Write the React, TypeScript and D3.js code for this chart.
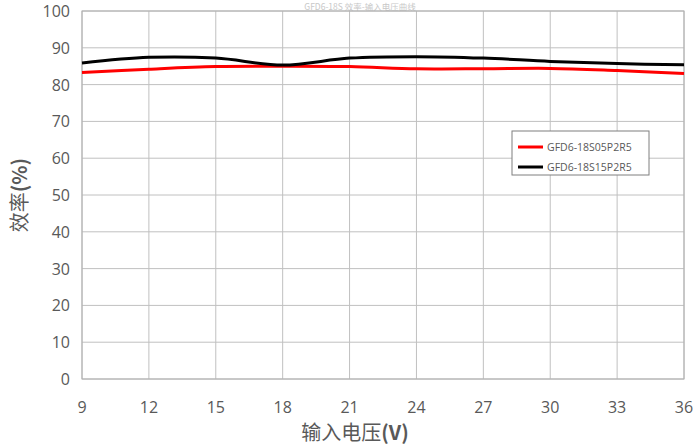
import React from "react";
import * as d3 from "d3";

const voltages = [9, 12, 15, 18, 21, 24, 27, 30, 33, 36];
const seriesNames = ["GFD6-18S05P2R5", "GFD6-18S15P2R5"];
const effS05 = [83.3, 84.2, 84.9, 85.0, 84.9, 84.3, 84.3, 84.4, 83.8, 83.0];
const effS15 = [85.9, 87.4, 87.2, 85.3, 87.2, 87.6, 87.2, 86.3, 85.7, 85.4];
const yTicks = [0, 10, 20, 30, 40, 50, 60, 70, 80, 90, 100];
const seriesColors = ["#ff0000", "#000000"];

export default function App() {
  const W = 694, H = 446;
  const left = 82, right = 684, top = 11, bottom = 379;
  const x = d3.scaleLinear().domain([9, 36]).range([left, right]);
  const y = d3.scaleLinear().domain([0, 100]).range([bottom, top]);
  const line = d3
    .line<number>()
    .x((_, i) => x(voltages[i]))
    .y((d) => y(d))
    .curve(d3.curveCatmullRom.alpha(0.5));
  const series = [effS05, effS15];
  const font = "'Open Sans', 'Noto Sans CJK SC', sans-serif";
  const grey = "#595959";
  return (
    <svg width={W} height={H} style={{ position: "absolute", left: 0, top: 0 }} fontFamily={font}>
      <rect width={W} height={H} fill="#fff" />
      <text x={360} y={10} textAnchor="middle" fontSize={8.5} fill="#c8c8c8" fontFamily="'Noto Sans CJK SC', sans-serif">
        GFD6-18S 效率-输入电压曲线
      </text>
      {yTicks.map((t) => (
        <line key={"h" + t} x1={left} x2={right} y1={y(t)} y2={y(t)} stroke="#c0c0c0" strokeWidth={1} />
      ))}
      {voltages.map((v) => (
        <line key={"v" + v} x1={x(v)} x2={x(v)} y1={top} y2={bottom} stroke="#c0c0c0" strokeWidth={1} />
      ))}
      <rect x={left} y={top} width={right - left} height={bottom - top} fill="none" stroke="#b0b0b0" />
      {yTicks.map((t) => (
        <text key={"yt" + t} x={70} y={y(t) + 6} textAnchor="end" fontSize={16} fill={grey}>
          {t}
        </text>
      ))}
      {voltages.map((v) => (
        <text key={"xt" + v} x={x(v)} y={413} textAnchor="middle" fontSize={16} fill={grey}>
          {v}
        </text>
      ))}
      {series.map((s, i) => (
        <path key={"s" + i} d={line(s) || ""} fill="none" stroke={seriesColors[i]} strokeWidth={3} />
      ))}
      <text x={355} y={440} textAnchor="middle" fontSize={20} fill={grey} fontFamily="'Noto Sans CJK SC', sans-serif">
        输入电压<tspan fontWeight="bold">(V)</tspan>
      </text>
      <text
        transform="translate(27,195) rotate(-90)"
        textAnchor="middle"
        fontSize={20}
        fill={grey}
        fontFamily="'Noto Sans CJK SC', sans-serif"
      >
        效率<tspan fontWeight="bold">(%)</tspan>
      </text>
      <rect x={512} y={131} width={137} height={44} fill="#fff" stroke="#7f7f7f" strokeWidth={1} />
      {seriesNames.map((n, i) => (
        <g key={n}>
          <line x1={518} x2={543} y1={147 + i * 20} y2={147 + i * 20} stroke={seriesColors[i]} strokeWidth={3} />
          <text x={547} y={151 + i * 20} fontSize={10.5} fill={grey}>
            {n}
          </text>
        </g>
      ))}
    </svg>
  );
}
